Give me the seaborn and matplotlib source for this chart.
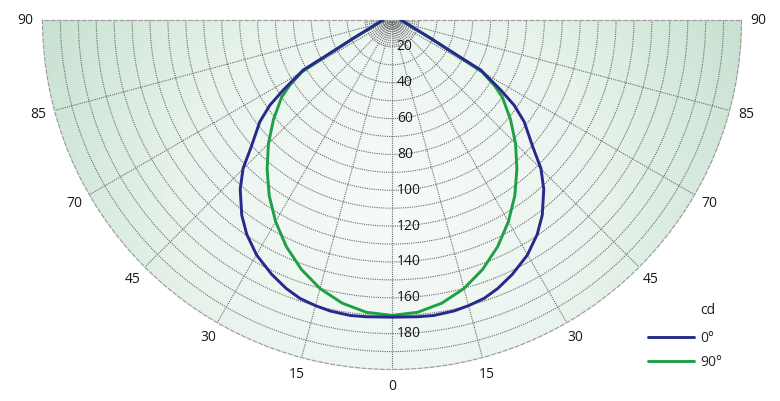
import numpy as np
import pandas as pd
import matplotlib
matplotlib.use("Agg")
import matplotlib.pyplot as plt
from matplotlib.colors import LinearSegmentedColormap
import seaborn as sns

# angle from nadir (deg) and luminous intensity (cd)
angles_c0 = [0, 5, 8, 12, 15, 18.3, 21.5, 25.3, 29.9, 34.1, 37.6, 41.9, 45.1, 47.9,
             52.4, 55.1, 57.2, 60.6, 61.8, 64.7, 70, 75, 80, 90]
cd_c0 = [170.8, 171.2, 171.5, 171, 170, 168.6, 166, 162, 156.4, 149.5, 142.4, 131.8, 122.3, 111,
         98.1, 88.1, 77.2, 61.9, 44.3, 28.9, 17.9, 14.2, 12.2, 10]
angles_c90 = [0, 5, 10, 15, 20, 25, 30, 35, 40, 45, 50, 55, 57.5, 60, 61.8, 64.7, 70, 75, 80, 90]
cd_c90 = [169.8, 168.7, 165.4, 160.1, 153, 144.5, 134.9, 124.5, 113.4, 102.5, 91.3, 80.2, 72.5, 63,
          43.5, 28.3, 17.6, 14, 12, 9.8]
plane_labels = ["0°", "90°"]
ring_labels = [20, 40, 60, 80, 100, 120, 140, 160, 180]
spoke_angles = [0, 15, 30, 45, 60, 75, 90]
spoke_labels = ["0", "15", "30", "45", "70", "85", "90"]

R_MIN, R_MAX = 5, 200

# mirror each half curve onto both sides of the nadir
rows = []
for label, angs, vals in zip(plane_labels, [angles_c0, angles_c90], [cd_c0, cd_c90]):
    for a, v in zip(angs, vals):
        rows.append((np.deg2rad(a), v, label))
        if a != 0:
            rows.append((np.deg2rad(-a), v, label))
df = pd.DataFrame(rows, columns=["theta", "intensity", "plane"])

sns.set_theme(style="white")
plt.rcParams["font.family"] = ["Open Sans", "DejaVu Sans"]

fig = plt.figure(figsize=(7.8, 4.01), dpi=100)
# polar axes box is square; the lower half-disk sits in its middle band
side = 699
ax = fig.add_axes([42.5 / 780, (401 - (20 - side / 4 + side)) / 401, side / 780, side / 401],
                  projection="polar")
ax.set_theta_zero_location("S")
ax.set_thetamin(-90)
ax.set_thetamax(90)
ax.set_rlim(R_MIN, R_MAX)

# soft radial background
cmap = LinearSegmentedColormap.from_list("bg", ["#f7fbf8", "#eaf4ee", "#c8e1d1"])
T, R = np.meshgrid(np.linspace(-np.pi / 2, np.pi / 2, 181), np.linspace(R_MIN, R_MAX, 80))
rpx = (R - R_MIN) * 1.79
C = np.hypot(rpx * np.sin(T), rpx * np.cos(T) - 185) / 390
ax.pcolormesh(T, R, C, cmap=cmap, shading="gouraud", vmin=0, vmax=1, zorder=0.1, rasterized=True)

# grid
ax.set_yticks(np.arange(10, 200, 10))
ax.set_yticklabels([])
ax.set_xticks(np.deg2rad(np.arange(-75, 76, 15)))
ax.set_xticklabels([])
ax.grid(True, color="#6a6a6a", linestyle=(0, (1, 1)), linewidth=0.8)
for a in range(-85, 86, 5):
    if a % 15:
        ax.plot([np.deg2rad(a)] * 2, [R_MIN, 20], color="#6a6a6a", ls=(0, (1, 1)), lw=0.8, zorder=0.6)
for name, sp in ax.spines.items():
    sp.set_linestyle((0, (3, 2)))
    sp.set_color("#a0a0a0")
    sp.set_linewidth(0.9)

# 0° plane drawn last so it sits on top where the curves meet
sns.lineplot(data=df, x="theta", y="intensity", hue="plane", hue_order=["90°", "0°"],
             palette={"0°": "#262a8c", "90°": "#1f9f46"},
             sort=True, estimator=None, linewidth=2.1, ax=ax, zorder=3)
ax.set_xlabel("")
ax.set_ylabel("")

# labels
for v in ring_labels:
    ax.annotate(str(v), (0, v), xytext=(3.5, 0), textcoords="offset points",
                ha="left", va="center", fontsize=10, color="#1a1a1a")
for a, lab in zip(spoke_angles, spoke_labels):
    for s in ([1, -1] if a else [1]):
        ax.text(np.deg2rad(s * a), 209.5, lab, ha="center", va="center",
                fontsize=10, color="#1a1a1a", clip_on=False)

h, l = ax.get_legend_handles_labels()
order = [l.index(p) for p in plane_labels]
ax.legend([h[i] for i in order], [l[i] for i in order], loc="upper left",
          bbox_to_anchor=(641 / 780, 1 - 324 / 401),
          bbox_transform=fig.transFigure, frameon=False, fontsize=10, borderpad=0,
          handlelength=3.3, handletextpad=0.5, labelspacing=0.65)
fig.text(700 / 780, 1 - 311 / 401, "cd", va="center", ha="left", fontsize=10, color="#1a1a1a")

fig.savefig("out.png", dpi=100)
